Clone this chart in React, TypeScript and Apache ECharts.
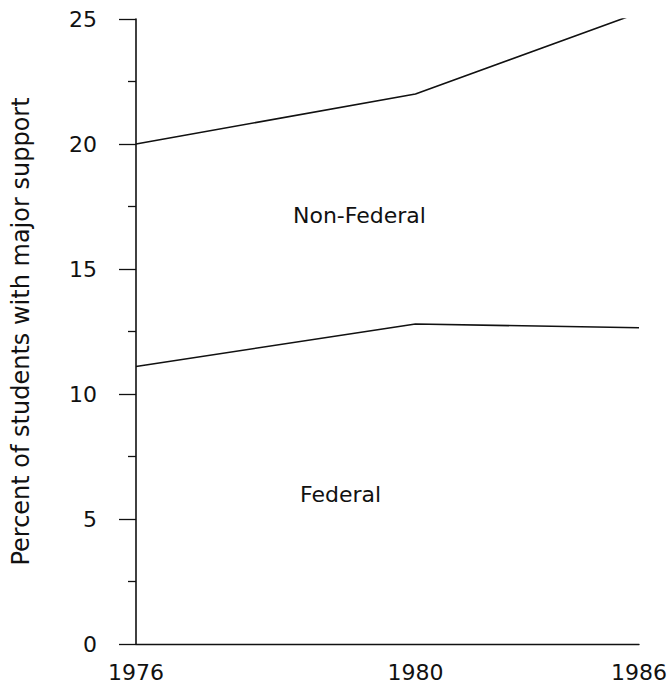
import React, { useEffect, useRef } from "react";
import * as echarts from "echarts";

// x slots: 1976 ... 1986 on the original's uneven spacing (5 slots to 1980, 4 to 1986)
const categories = ["1976", "", "", "", "", "1980", "", "", "", "1986"];
const federal = [11.1, null, null, null, null, 12.8, null, null, null, 12.65];
const total = [20.0, null, null, null, null, 22.0, null, null, null, 25.25];
const yTicks = [0, 5, 10, 15, 20, 25];

const FONT = "DejaVu Sans";

export default function App() {
  const ref = useRef<HTMLDivElement>(null);
  useEffect(() => {
    if (!ref.current) return;
    const chart = echarts.init(ref.current, undefined, { renderer: "svg" });
    const lineStyle = { color: "#111", width: 1.6 };
    chart.setOption({
      animation: false,
      backgroundColor: "#fff",
      grid: { left: 136, right: 27, top: 19, bottom: 43 },
      xAxis: {
        type: "category",
        data: categories,
        boundaryGap: false,
        axisLine: { show: true, lineStyle: { color: "#111", width: 1.4 } },
        axisTick: { show: false },
        axisLabel: {
          interval: 0,
          color: "#111",
          fontFamily: FONT,
          fontSize: 22,
          margin: 17,
        },
        splitLine: { show: false },
      },
      yAxis: [
        {
          type: "value",
          min: yTicks[0],
          max: yTicks[yTicks.length - 1],
          interval: 5,
          name: "Percent of students with major support",
          nameLocation: "middle",
          nameRotate: 90,
          nameGap: 103,
          nameTextStyle: { color: "#111", fontFamily: FONT, fontSize: 24 },
          axisLine: { show: true, lineStyle: { color: "#111", width: 1.6 } },
          axisTick: { show: true, length: 17, lineStyle: { color: "#111", width: 1.3 } },
          minorTick: { show: true, splitNumber: 2, length: 8, lineStyle: { color: "#111", width: 1.3 } },
          axisLabel: { color: "#111", fontFamily: FONT, fontSize: 22, margin: 39 },
          splitLine: { show: false },
        },
      ],
      series: [
        {
          name: "Federal",
          type: "line",
          data: federal,
          connectNulls: true,
          showSymbol: false,
          lineStyle,
        },
        {
          name: "Total",
          type: "line",
          data: total,
          connectNulls: true,
          showSymbol: false,
          lineStyle,
          markLine: {
            silent: true,
            symbol: "none",
            label: { show: false },
            lineStyle: { color: "#111", width: 1.6, type: "solid" },
            data: [
              [
                { xAxis: categories.length - 1, yAxis: 0.15 },
                { xAxis: categories.length - 1, yAxis: total[total.length - 1] },
              ],
            ],
          },
        },
      ],
      graphic: [
        {
          type: "text",
          left: 293,
          top: 204,
          style: { text: "Non-Federal", fill: "#111", font: `22px "${FONT}"` },
        },
        {
          type: "text",
          left: 300,
          top: 483,
          style: { text: "Federal", fill: "#111", font: `22px "${FONT}"` },
        },
      ],
    });
    return () => chart.dispose();
  }, []);
  return (
    <div
      ref={ref}
      style={{ position: "fixed", left: 0, top: 0, width: 670, height: 687 }}
    />
  );
}
